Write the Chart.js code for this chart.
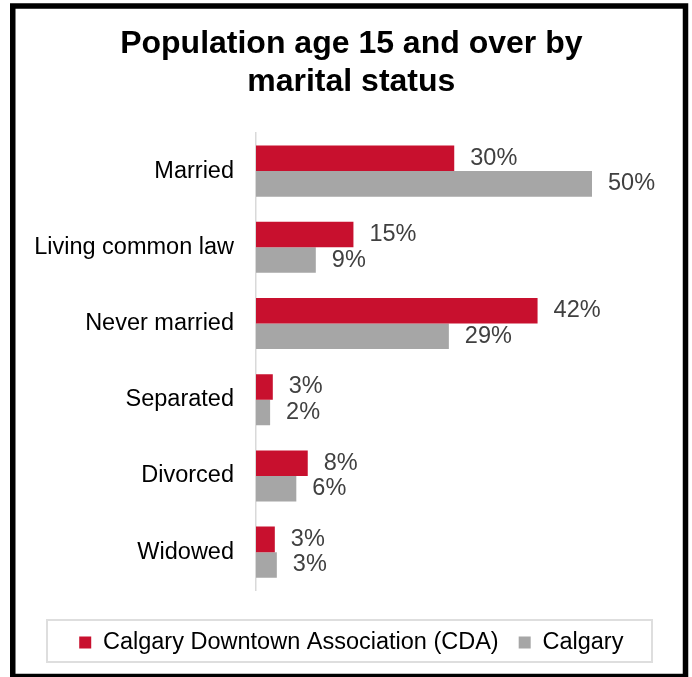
<!DOCTYPE html>
<html>
<head>
<meta charset="utf-8">
<script src="https://cdn.jsdelivr.net/npm/chart.js@4.4.0/dist/chart.umd.min.js"></script>
<style>
  html, body { margin: 0; padding: 0; background: #fff; }
  #wrap { position: relative; width: 692px; height: 677px; }
</style>
</head>
<body>
<div id="wrap"><canvas id="maritalChart" width="692" height="677"></canvas></div>
<script>
// data
const categories = ['Married', 'Living common law', 'Never married', 'Separated', 'Divorced', 'Widowed'];
const cdaValues = [29.5, 14.5, 41.9, 2.5, 7.7, 2.8];
const calgaryValues = [50, 8.9, 28.7, 2.1, 6.0, 3.1];
const seriesNames = ['Calgary Downtown Association (CDA)', 'Calgary'];
const titleLines = ['Population age 15 and over by', 'marital status'];

const FONT = 'Arial, "Liberation Sans", sans-serif';
Chart.defaults.font.family = FONT;

// % labels to the right of each bar
const valueLabels = {
  id: 'valueLabels',
  afterDatasetsDraw(chart) {
    const ctx = chart.ctx;
    ctx.save();
    ctx.font = '23.5px ' + FONT;
    ctx.fillStyle = '#404040';
    ctx.textAlign = 'left';
    ctx.textBaseline = 'middle';
    chart.data.datasets.forEach((ds, i) => {
      chart.getDatasetMeta(i).data.forEach((bar, j) => {
        ctx.fillText(Math.round(ds.data[j]) + '%', bar.x + 16, bar.y);
      });
    });
    ctx.restore();
  }
};

// black outer frame + light box round the legend
const frames = {
  id: 'frames',
  afterDraw(chart) {
    const ctx = chart.ctx;
    ctx.save();
    ctx.strokeStyle = '#000';
    ctx.lineWidth = 5.5;
    ctx.strokeRect(12.75, 6, 672.75, 670.5);
    ctx.strokeStyle = '#dedede';
    ctx.lineWidth = 2;
    ctx.strokeRect(47, 620, 605, 42);
    ctx.restore();
  }
};

const ctx = document.getElementById('maritalChart').getContext('2d');
new Chart(ctx, {
  type: 'bar',
  data: {
    labels: categories,
    datasets: [{
      label: seriesNames[0],
      data: cdaValues,
      backgroundColor: '#C8102E',
      categoryPercentage: 0.67,
      barPercentage: 1.0
    }, {
      label: seriesNames[1],
      data: calgaryValues,
      backgroundColor: '#A6A6A6',
      categoryPercentage: 0.67,
      barPercentage: 1.0
    }]
  },
  options: {
    indexAxis: 'y',
    responsive: false,
    animation: false,
    layout: {
      padding: { left: 30, right: 19.36, top: 0, bottom: 12.75 }
    },
    plugins: {
      title: {
        display: true,
        text: titleLines,
        color: '#000',
        font: { size: 32, weight: 'bold', lineHeight: 1.1875 },
        padding: { top: 25, bottom: 32 }
      },
      legend: {
        position: 'bottom',
        labels: {
          boxWidth: 12,
          boxHeight: 12,
          padding: 20,
          color: '#000',
          font: { size: 23.5 }
        }
      },
      tooltip: { enabled: false }
    },
    scales: {
      x: {
        min: 0,
        max: 62,
        grid: { display: false, drawTicks: false },
        border: { display: false },
        ticks: { display: false },
        afterFit: s => { s.height = 20.5; }
      },
      y: {
        grid: { display: false, drawTicks: false },
        border: { display: true, color: '#d9d9d9', width: 1.5 },
        ticks: { color: '#000', padding: 22, font: { size: 23.5 } },
        afterFit: s => { s.width = 226; }
      }
    }
  },
  plugins: [valueLabels, frames]
});
</script>
</body>
</html>
